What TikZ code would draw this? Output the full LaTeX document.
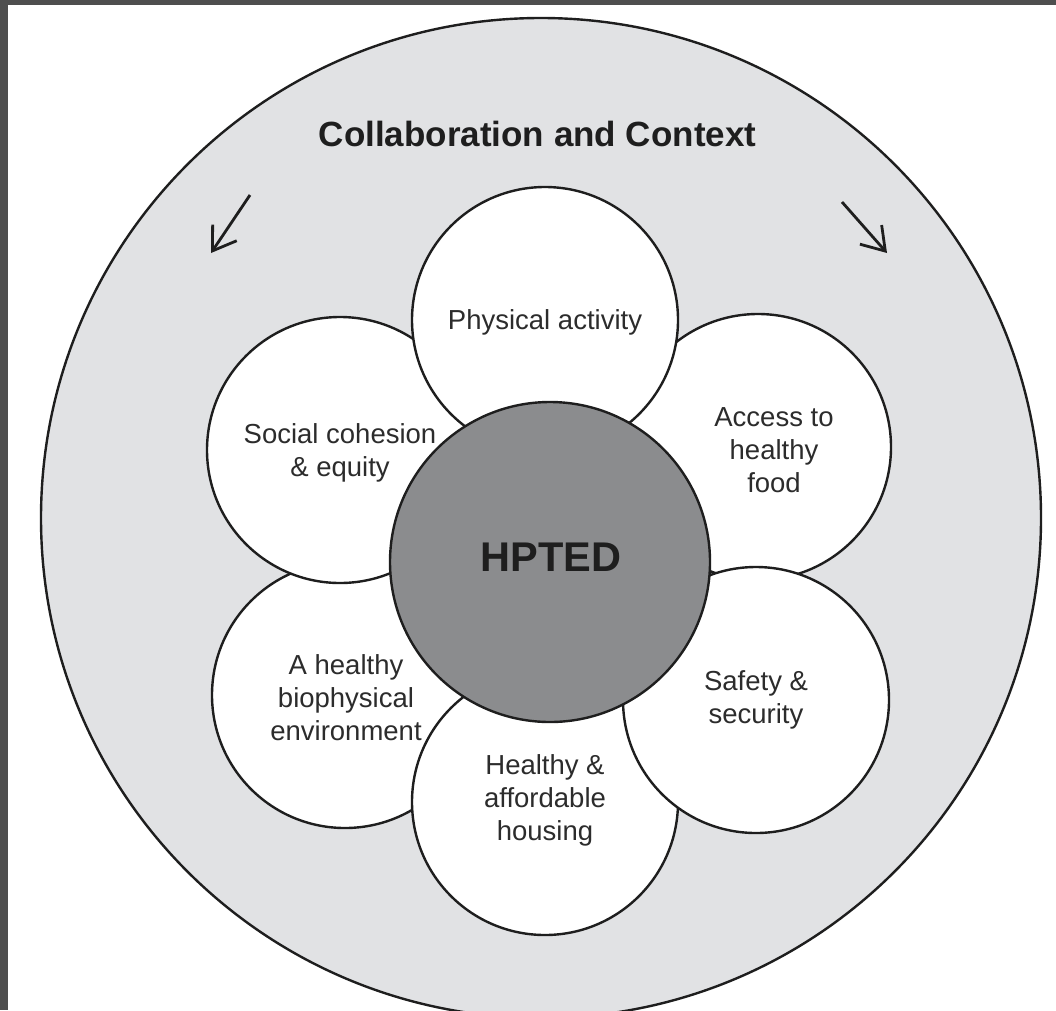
\documentclass[tikz,border=0pt]{standalone}
\usepackage{fontspec}
\setmainfont{Liberation Sans}
\usetikzlibrary{arrows.meta}
\definecolor{framec}{HTML}{4E4E4E}
\definecolor{ringc}{HTML}{E1E2E4}
\definecolor{corec}{HTML}{8B8C8E}
\definecolor{inkc}{HTML}{1E1E1E}
\definecolor{txtc}{HTML}{2C2C2C}
\begin{document}
\begin{tikzpicture}[x=1pt,y=-1pt,
  petal/.style={circle, draw=inkc, line width=2.4pt, fill=white, minimum size=266pt, inner sep=0pt},
  ptext/.style={align=center, inner sep=0pt, text=txtc, font=\fontsize{27.5}{33}\selectfont},
  arr/.style={draw=inkc, line width=2.8pt, -{Straight Barb[length=22pt,width=29pt,line width=2.8pt]}}
]
\useasboundingbox (0,0) rectangle (1056,1010);
\fill[white] (0,0) rectangle (1056,1010);
\fill[framec] (0,0) rectangle (8,1010);
\fill[framec] (0,0) rectangle (1056,5);

\node[circle, draw=inkc, line width=2.4pt, fill=ringc, minimum size=1000pt, inner sep=0pt] (ctx) at (541,518) {};

\node[petal] (bio) at (345,695) {};
\node[petal] (access) at (758,447) {};
\node[petal] (housing) at (545,802) {};
\node[petal] (social) at (340,450) {};
\node[petal] (safety) at (756,700) {};
\node[petal] (physical) at (545,320) {};

\node[circle, draw=inkc, line width=2.4pt, fill=corec, minimum size=320pt, inner sep=0pt] (core) at (550,562) {};

\node[inner sep=0pt, text=inkc, anchor=base, font=\fontsize{35}{42}\selectfont\bfseries] (title) at (537.5,146) {Collaboration and Context};
\node[inner sep=0pt, text=inkc, font=\fontsize{41.5}{48}\selectfont\bfseries] (coret) at (551,557) {HPTED};

\node[ptext] (physicalt) at (545,322) {Physical activity};
\node[ptext] (accesst) at (774,450) {Access to\\healthy\\food};
\node[ptext] (safetyt) at (756,700) {Safety \&\\security};
\node[ptext] (housingt) at (545,800) {Healthy \&\\affordable\\housing};
\node[ptext] (biot) at (346,698) {A healthy\\biophysical\\environment};
\node[ptext] (socialt) at (340,453) {Social cohesion\\\& equity};

\coordinate (la) at (250,195);
\coordinate (lb) at (211,253);
\coordinate (ra) at (842,202);
\coordinate (rb) at (887,253);
\draw[arr] (la) -- (lb);
\draw[arr] (ra) -- (rb);
\end{tikzpicture}
\end{document}
